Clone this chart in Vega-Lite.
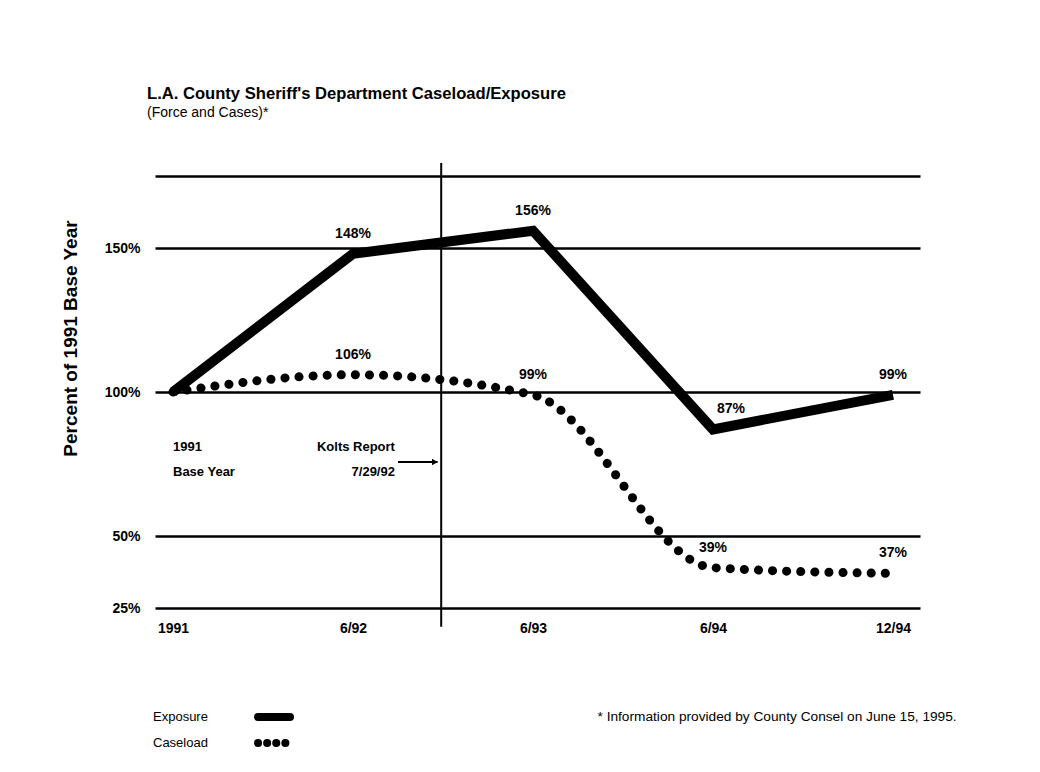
{
  "$schema": "https://vega.github.io/schema/vega-lite/v6.json",
  "width": 765,
  "height": 432,
  "autosize": {"type": "none"},
  "padding": {"left": 155, "top": 176, "right": 120, "bottom": 164},
  "background": "white",
  "config": {
    "font": "Liberation Sans, Arial, sans-serif",
    "view": {"stroke": null}
  },
  "title": {
    "text": "L.A. County Sheriff's Department Caseload/Exposure",
    "subtitle": "(Force and Cases)*",
    "anchor": "start",
    "frame": "group",
    "dx": -8,
    "offset": 42,
    "fontSize": 16.6,
    "fontWeight": "bold",
    "subtitleFontSize": 14,
    "subtitlePadding": 3,
    "color": "black",
    "subtitleColor": "black",
    "font": "Liberation Sans, Arial, sans-serif",
    "subtitleFont": "Liberation Sans, Arial, sans-serif"
  },
  "datasets": {
    "lines": [
      {"period": "1991", "x": 0, "series": "Exposure", "y": 100, "label": ""},
      {"period": "6/92", "x": 1, "series": "Exposure", "y": 148, "label": "148%"},
      {"period": "6/93", "x": 2, "series": "Exposure", "y": 156, "label": "156%"},
      {"period": "6/94", "x": 3, "series": "Exposure", "y": 87, "label": "87%"},
      {"period": "12/94", "x": 4, "series": "Exposure", "y": 99, "label": "99%"},
      {"period": "1991", "x": 0, "series": "Caseload", "y": 100, "label": ""},
      {"period": "6/92", "x": 1, "series": "Caseload", "y": 106, "label": "106%"},
      {"period": "6/93", "x": 2, "series": "Caseload", "y": 99, "label": "99%"},
      {"period": "6/94", "x": 3, "series": "Caseload", "y": 39, "label": "39%"},
      {"period": "12/94", "x": 4, "series": "Caseload", "y": 37, "label": "37%"}
    ],
    "notes": [
      {"kind": "vline", "x": 1.49, "y": 18.5, "y2": 179.5},
      {"kind": "arrow", "x": 1.25, "x2": 1.47, "y": 75.7},
      {"kind": "arrowhead", "x": 1.455, "y": 75.7},
      {"kind": "textL", "x": 0, "y": 80.9, "text": "1991"},
      {"kind": "textL", "x": 0, "y": 72.2, "text": "Base Year"},
      {"kind": "textR", "x": 1.233, "y": 80.9, "text": "Kolts Report"},
      {"kind": "textR", "x": 1.233, "y": 72.2, "text": "7/29/92"}
    ]
  },
  "resolve": {
    "scale": {"strokeDash": "independent"},
    "legend": {"strokeDash": "independent"}
  },
  "encoding": {
    "x": {
      "field": "x",
      "type": "quantitative",
      "scale": {"domain": [-0.1, 4.15], "nice": false, "zero": false},
      "axis": {
        "values": [0, 1, 2, 3, 4],
        "labelExpr": "['1991','6/92','6/93','6/94','12/94'][datum.value]",
        "grid": false,
        "ticks": false,
        "domain": false,
        "labelPadding": 13,
        "labelFontSize": 14,
        "labelFontWeight": "bold",
        "labelColor": "black",
        "labelFlush": false,
        "title": "* Information provided by County Consel on June 15, 1995.",
        "titleX": 442,
        "titleY": 108,
        "titleAlign": "left",
        "titleBaseline": "middle",
        "titleFontSize": 13.7,
        "titleFontWeight": "normal",
        "titleColor": "black"
      }
    },
    "y": {
      "field": "y",
      "type": "quantitative",
      "scale": {"domain": [25, 175], "nice": false, "zero": false},
      "axis": {
        "values": [25, 50, 100, 150, 175],
        "labelExpr": "datum.value == 175 ? '' : datum.value + '%'",
        "grid": true,
        "gridColor": "black",
        "gridWidth": 2.5,
        "gridOpacity": 1,
        "ticks": false,
        "domain": false,
        "labelPadding": 15,
        "labelFontSize": 14,
        "labelFontWeight": "bold",
        "labelColor": "black",
        "labelFlush": false,
        "title": "Percent of 1991 Base Year",
        "titleX": -85,
        "titleY": 162,
        "titleAngle": 270,
        "titleAlign": "center",
        "titleBaseline": "middle",
        "titleFontSize": 19,
        "titleFontWeight": "bold",
        "titleColor": "black"
      }
    }
  },
  "layer": [
    {
      "data": {"name": "notes"},
      "transform": [{"filter": "datum.kind == 'vline'"}],
      "mark": {"type": "rule", "color": "black", "strokeWidth": 2, "clip": false},
      "encoding": {"y2": {"field": "y2"}}
    },
    {
      "data": {"name": "notes"},
      "transform": [{"filter": "datum.kind == 'arrow'"}],
      "mark": {"type": "rule", "color": "black", "strokeWidth": 2},
      "encoding": {"x2": {"field": "x2"}}
    },
    {
      "data": {"name": "notes"},
      "transform": [{"filter": "datum.kind == 'arrowhead'"}],
      "mark": {"type": "point", "shape": "triangle-right", "filled": true, "color": "black", "size": 45, "opacity": 1},
      "encoding": {}
    },
    {
      "data": {"name": "notes"},
      "transform": [{"filter": "datum.kind == 'textL'"}],
      "mark": {"type": "text", "align": "left", "baseline": "middle", "fontSize": 13, "fontWeight": "bold", "color": "black"},
      "encoding": {"text": {"field": "text"}}
    },
    {
      "data": {"name": "notes"},
      "transform": [{"filter": "datum.kind == 'textR'"}],
      "mark": {"type": "text", "align": "right", "baseline": "middle", "fontSize": 13, "fontWeight": "bold", "color": "black"},
      "encoding": {"text": {"field": "text"}}
    },
    {
      "data": {"name": "lines"},
      "transform": [{"filter": "datum.series == 'Exposure'"}],
      "mark": {"type": "line", "color": "black", "strokeWidth": 10, "strokeJoin": "miter", "strokeCap": "butt"},
      "encoding": {}
    },
    {
      "data": {"name": "lines"},
      "transform": [{"filter": "datum.series == 'Caseload'"}],
      "mark": {"type": "line", "color": "black", "strokeWidth": 9, "strokeCap": "round", "strokeDash": [0.1, 14], "interpolate": "monotone"},
      "encoding": {}
    },
    {
      "data": {"name": "lines"},
      "transform": [{"filter": "false"}],
      "mark": {"type": "line", "color": "black", "strokeWidth": 8, "strokeCap": "round"},
      "encoding": {
        "strokeDash": {
          "field": "series",
          "type": "nominal",
          "scale": {"domain": ["Exposure"], "range": [[1, 0]]},
          "legend": {
            "orient": "none",
            "legendX": 110,
            "legendY": 532,
            "title": null,
            "symbolType": "M-3.2,0H3.2",
            "symbolSize": 100,
            "symbolStrokeWidth": 8,
            "symbolStrokeColor": "black",
            "symbolFillColor": "transparent",
            "labelAlign": "left",
            "labelOffset": -130,
            "labelFontSize": 13,
            "labelColor": "black",
            "encode": {
              "symbols": {
                "update": {
                  "strokeCap": {"value": "round"},
                  "stroke": {"value": "black"},
                  "strokeWidth": {"value": 8},
                  "opacity": {"value": 1}
                }
              }
            }
          }
        }
      }
    },
    {
      "data": {"name": "lines"},
      "transform": [{"filter": "false"}],
      "mark": {"type": "line", "color": "black", "strokeWidth": 8, "strokeCap": "round"},
      "encoding": {
        "strokeDash": {
          "field": "series",
          "type": "nominal",
          "scale": {"domain": ["Caseload"], "range": [[0.1, 9]]},
          "legend": {
            "orient": "none",
            "legendX": 110,
            "legendY": 558,
            "title": null,
            "symbolType": "M-3.2,0H3.2",
            "symbolSize": 100,
            "symbolStrokeWidth": 8,
            "symbolStrokeColor": "black",
            "symbolFillColor": "transparent",
            "labelAlign": "left",
            "labelOffset": -130,
            "labelFontSize": 13,
            "labelColor": "black",
            "encode": {
              "symbols": {
                "update": {
                  "strokeCap": {"value": "round"},
                  "stroke": {"value": "black"},
                  "strokeWidth": {"value": 8},
                  "opacity": {"value": 1}
                }
              }
            }
          }
        }
      }
    },
    {
      "data": {"name": "lines"},
      "transform": [{"filter": "datum.label != '' && !(datum.series == 'Exposure' && datum.period == '6/94')"}],
      "mark": {"type": "text", "dy": -20, "fontSize": 14, "fontWeight": "bold", "color": "black"},
      "encoding": {"text": {"field": "label"}}
    },
    {
      "data": {"name": "lines"},
      "transform": [{"filter": "datum.series == 'Exposure' && datum.period == '6/94'"}],
      "mark": {"type": "text", "dx": 18, "dy": -20, "fontSize": 14, "fontWeight": "bold", "color": "black"},
      "encoding": {"text": {"field": "label"}}
    }
  ]
}
